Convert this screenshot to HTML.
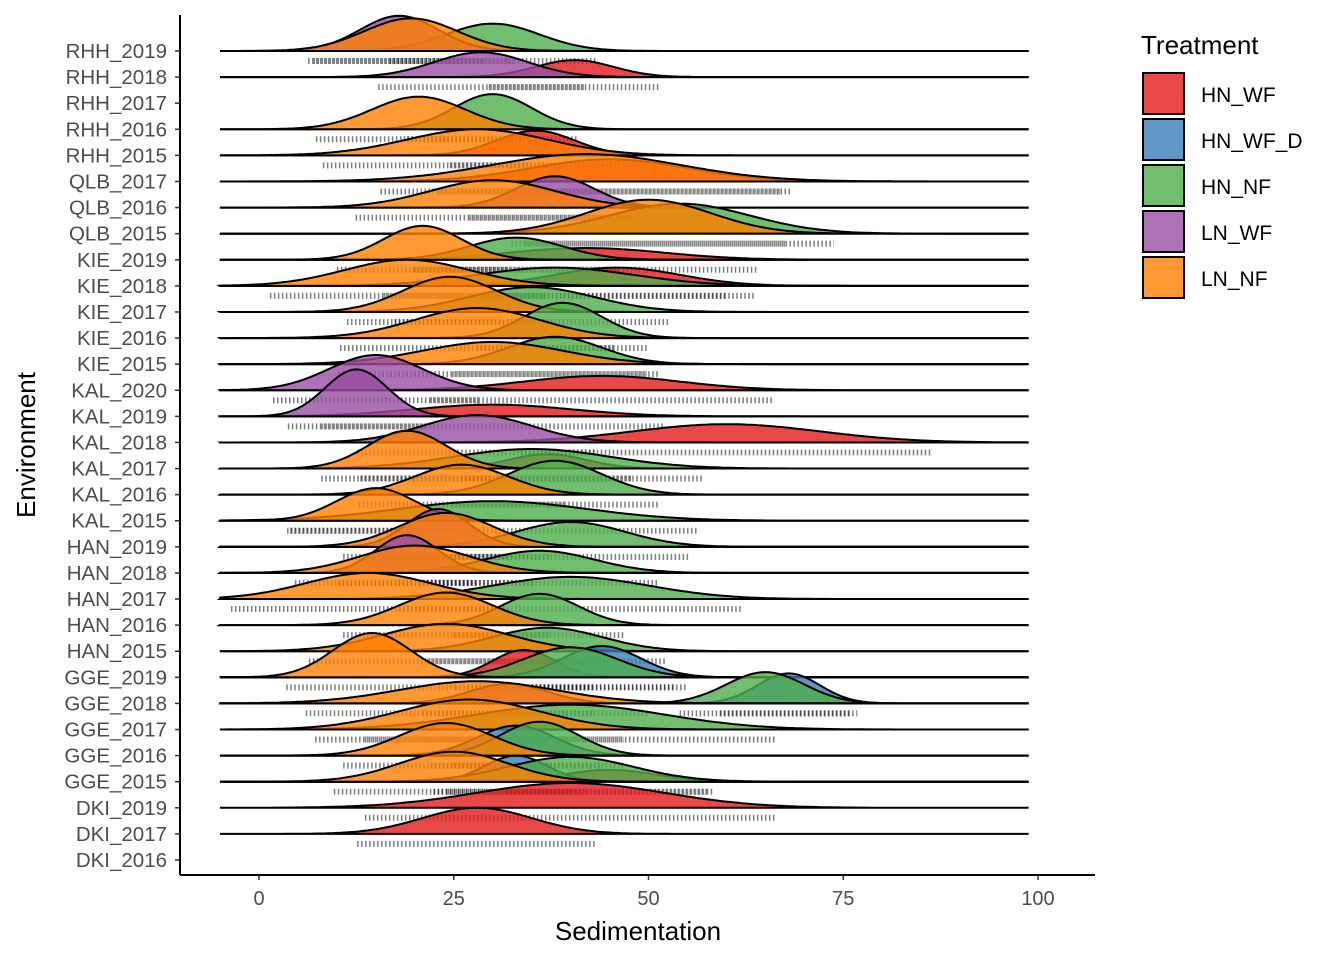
<!DOCTYPE html>
<html><head><meta charset="utf-8">
<style>
body{margin:0;background:#fff;}
svg{display:block;font-family:"Liberation Sans",Arial,sans-serif;}
</style></head>
<body>
<svg id="chart" width="1344" height="960" viewBox="0 0 1344 960" xmlns="http://www.w3.org/2000/svg">
<g id="ridges"></g>
<g id="axes"></g>
<g id="legend"></g>
</svg>
<script>
// ---- data ----
const categories = ["DKI_2016","DKI_2017","DKI_2019","GGE_2015","GGE_2016","GGE_2017","GGE_2018","GGE_2019",
"HAN_2015","HAN_2016","HAN_2017","HAN_2018","HAN_2019","KAL_2015","KAL_2016","KAL_2017","KAL_2018","KAL_2019","KAL_2020",
"KIE_2015","KIE_2016","KIE_2017","KIE_2018","KIE_2019","QLB_2015","QLB_2016","QLB_2017","RHH_2015","RHH_2016","RHH_2017","RHH_2018","RHH_2019"];
const treatments = ["HN_WF","HN_WF_D","HN_NF","LN_WF","LN_NF"];
const xTicks = [0,25,50,75,100];
// estimated density components: env, treatment, mean, sd, peak height (in row units)
const densEnv = ["RHH_2019","RHH_2019","RHH_2019","RHH_2018","RHH_2018","RHH_2016","RHH_2016","RHH_2015","RHH_2015",
"QLB_2017","QLB_2017","QLB_2016","QLB_2016","QLB_2015","QLB_2015","KIE_2019","KIE_2019","KIE_2019","KIE_2018","KIE_2018","KIE_2018",
"KIE_2017","KIE_2017","KIE_2016","KIE_2016","KIE_2015","KIE_2015","KAL_2020","KAL_2020","KAL_2019","KAL_2019","KAL_2018","KAL_2018",
"KAL_2017","KAL_2017","KAL_2017","KAL_2016","KAL_2016","KAL_2015","KAL_2015","HAN_2019","HAN_2019","HAN_2019","HAN_2018","HAN_2018","HAN_2018",
"HAN_2017","HAN_2017","HAN_2016","HAN_2016","HAN_2015","HAN_2015","GGE_2019","GGE_2019","GGE_2019","GGE_2019","GGE_2018","GGE_2018","GGE_2018","GGE_2018",
"GGE_2017","GGE_2017","GGE_2016","GGE_2016","GGE_2016","GGE_2015","GGE_2015","GGE_2015","GGE_2015","DKI_2019","DKI_2017"];
const densTrt = ["HN_NF","LN_WF","LN_NF","HN_WF","LN_WF","HN_NF","LN_NF","HN_WF","LN_NF",
"HN_WF","LN_NF","LN_WF","LN_NF","HN_NF","LN_NF","HN_WF","HN_NF","LN_NF","HN_WF","HN_NF","LN_NF",
"HN_NF","LN_NF","HN_NF","LN_NF","HN_NF","LN_NF","HN_WF","LN_WF","HN_WF","LN_WF","HN_WF","LN_WF",
"HN_WF","HN_NF","LN_NF","HN_NF","LN_NF","HN_NF","LN_NF","HN_NF","LN_WF","LN_NF","HN_NF","LN_WF","LN_NF",
"HN_NF","LN_NF","HN_NF","LN_NF","HN_NF","LN_NF","HN_WF","HN_NF","HN_WF_D","LN_NF","LN_WF","HN_NF","HN_WF_D","LN_NF",
"HN_NF","LN_NF","HN_WF_D","HN_NF","LN_NF","HN_WF","HN_WF_D","HN_NF","LN_NF","HN_WF","HN_WF"];
const densMean = [30,18,19.5,40.5,28.5,30,20.5,35.5,28,
45,42,38,30,54,50,42,33,21,46,38,19,
35,24.5,39,28,38,30,44,15,30,12.5,60,28,
37,35,19,38,26,30,15,40,23,24,36,19,20,
40,14,36,24,37,24,34,40,44,14.5,32,65,68,28,
40,27,33,36,24,45,33,40,25,40,28];
const densSd = [6,5,6,5,6,5,6,5,9,
10,12,5,8,9,8,10,6,5,8,10,8,
8,6,5,8,6,9,10,6,10,4,12,7,
5,10,5,6,6,12,5,7,4,6,7,4,7,
10,8,5,6,7,8,4,6,5,5,5,5,4,10,
12,9,5,5,6,6,4,8,7,12,7];
const densPeak = [1.05,1.35,1.25,0.65,0.95,1.35,1.25,0.95,1.0,
0.85,1.05,1.2,1.05,1.15,1.3,0.45,0.85,1.3,0.7,0.7,1.0,
0.95,1.35,1.35,1.15,1.05,0.85,0.55,1.35,0.45,1.8,0.7,1.05,
0.55,0.75,1.45,1.3,1.15,0.75,1.25,0.95,1.45,1.3,0.85,1.45,1.05,
0.85,1.0,1.2,1.25,0.9,1.05,1.05,1.15,1.2,1.7,0.75,1.2,1.15,0.85,
0.95,1.15,1.15,1.3,1.25,0.45,1.0,0.95,1.15,0.95,1.0];

const colors = {HN_WF:"#E41A1C",HN_WF_D:"#377EB8",HN_NF:"#4DAF4A",LN_WF:"#984EA3",LN_NF:"#FF7F00"};
const NS="http://www.w3.org/2000/svg";
const X0=180,X1=1095,Y0=15,Y1=875;
const xs = v => 259 + v*7.79;
const rowY = i => 860 - i*(809/31);
const rowH = 26.1;
function mk(tag, attrs, parent){const e=document.createElementNS(NS,tag);for(const k in attrs)e.setAttribute(k,attrs[k]);parent.appendChild(e);return e;}

const ridges=document.getElementById('ridges');
for(let ri=categories.length-1; ri>=0; ri--){
  const env=categories[ri];
  const y=rowY(ri);
  const idx=[];densEnv.forEach((e,k)=>{if(e===env)idx.push(k);});
  if(!idx.length) continue;
  const g=mk('g',{},ridges);
  
  
  idx.forEach(k=>{
    const a=xs(densMean[k]-2.2*densSd[k]), b=xs(densMean[k]+2.2*densSd[k]);
    const d=mk('line',{x1:a,x2:b,y1:y+10,y2:y+10,stroke:"#000","stroke-opacity":0.5,"stroke-width":6,"stroke-dasharray":"1.5 2.5"},g);
    
    
  });
  const order=["HN_WF","HN_WF_D","HN_NF","LN_WF","LN_NF"];
  order.forEach(t=>{
    idx.filter(k=>densTrt[k]===t).forEach(k=>{
      let p="M"+xs(-5)+","+y;
      for(let v=-5; v<=98.8; v+=0.5){
        const z=(v-densMean[k])/densSd[k];
        const h=densPeak[k]*rowH*Math.exp(-0.5*z*z);
        p+=" L"+xs(v).toFixed(1)+","+(y-h).toFixed(1);
      }
      p+=" L"+xs(98.8)+","+y+" Z";
      const path=mk('path',{d:p,fill:colors[t],"fill-opacity":0.8,stroke:"#000","stroke-width":2},g);
      
      
    });
  });
}
const axes=document.getElementById('axes');
const yl=mk('line',{x1:X0,x2:X0,y1:Y0,y2:Y1,stroke:"#000","stroke-width":2},axes);

const xl=mk('line',{x1:X0,x2:X1,y1:Y1,y2:Y1,stroke:"#000","stroke-width":2},axes);

categories.forEach((c,i)=>{
  const y=rowY(i);
  const tk=mk('line',{x1:X0-5,x2:X0,y1:y,y2:y,stroke:"#333","stroke-width":1.5},axes);
  
  const t=mk('text',{x:X0-13,y:y+7,"text-anchor":"end","font-size":20.5,fill:"#4d4d4d"},axes);
  t.textContent=c;
  
});
xTicks.forEach(v=>{
  const tk=mk('line',{x1:xs(v),x2:xs(v),y1:Y1,y2:Y1+5,stroke:"#333","stroke-width":1.5},axes);
  
  const t=mk('text',{x:xs(v),y:905,"text-anchor":"middle","font-size":20,fill:"#4d4d4d"},axes);
  t.textContent=v;
  
});
const xt=mk('text',{x:638,y:940,"text-anchor":"middle","font-size":26},axes);
xt.textContent="Sedimentation";
const yt=mk('text',{x:35,y:445,"text-anchor":"middle","font-size":26,transform:"rotate(-90 35 445)"},axes);
yt.textContent="Environment";
const lg=document.getElementById('legend');
const lt=mk('text',{x:1141,y:54,"font-size":26},lg);
lt.textContent="Treatment";
treatments.forEach((t,i)=>{
  const y=73+i*46;
  const g=mk('g',{},lg);
  
  mk('rect',{x:1143,y:y,width:41,height:41,fill:colors[t],"fill-opacity":0.8,stroke:"#000","stroke-width":2},g);
  const tx=mk('text',{x:1201,y:y+29,"font-size":21},g);
  tx.textContent=t;
});
</script>
</body></html>
